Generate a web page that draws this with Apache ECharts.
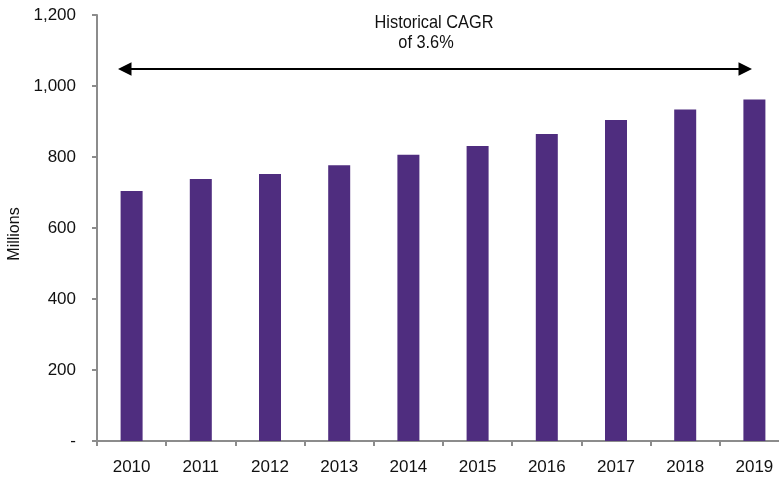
<!DOCTYPE html>
<html>
<head>
<meta charset="utf-8">
<script src="https://cdn.jsdelivr.net/npm/echarts@6/dist/echarts.min.js"></script>
<style>
html,body{margin:0;padding:0;background:#fff;}
#chart{width:779px;height:479px;}
</style>
</head>
<body>
<div id="chart"></div>
<script>
const categories = ['2010','2011','2012','2013','2014','2015','2016','2017','2018','2019'];
const values = [704, 738, 752, 777, 806, 831, 865, 904, 934, 962];
const yTicks = [0, 200, 400, 600, 800, 1000, 1200];
const annotationLines = ['Historical CAGR', 'of 3.6%'];

const FONT = "'Liberation Sans', Arial, sans-serif";
const chart = echarts.init(document.getElementById('chart'), null, {renderer: 'canvas'});

const option = {
  animation: false,
  backgroundColor: '#ffffff',
  grid: {left: 97, top: 15, width: 692, height: 426, containLabel: false, outerBoundsMode: 'none'},
  xAxis: {
    type: 'category',
    data: categories,
    axisLine: {lineStyle: {color: '#8c8c8c', width: 2}},
    axisTick: {show: true, length: 5, alignWithLabel: false, lineStyle: {color: '#8c8c8c', width: 2}},
    axisLabel: {color: '#111', fontFamily: FONT, fontSize: 17, margin: 18},
    splitLine: {show: false}
  },
  yAxis: {
    type: 'value',
    min: yTicks[0], max: yTicks[yTicks.length - 1], interval: yTicks[1] - yTicks[0],
    name: 'Millions',
    nameLocation: 'middle',
    nameRotate: 90,
    nameGap: 72,
    nameTextStyle: {color: '#111', fontFamily: FONT, fontSize: 16, padding: [0, 12, 0, 0]},
    axisLine: {show: true, lineStyle: {color: '#8c8c8c', width: 2}},
    axisTick: {show: true, length: 5, lineStyle: {color: '#8c8c8c', width: 2}},
    axisLabel: {
      color: '#111', fontFamily: FONT, fontSize: 17, margin: 21,
      formatter: function (v) { return v === 0 ? '-' : v.toLocaleString('en-US'); }
    },
    splitLine: {show: false}
  },
  series: [{
    type: 'bar',
    data: values,
    barWidth: 22,
    itemStyle: {color: '#4f2d7f'}
  }],
  graphic: [
    {type: 'text', x: 434, y: 23, scaleX: 0.86, style: {text: annotationLines[0], x: 0, y: 0, fill: '#111', font: '19px ' + FONT, textAlign: 'center', textVerticalAlign: 'middle'}},
    {type: 'text', x: 426, y: 42.5, scaleX: 0.86, style: {text: annotationLines[1], x: 0, y: 0, fill: '#111', font: '19px ' + FONT, textAlign: 'center', textVerticalAlign: 'middle'}},
    {type: 'line', shape: {x1: 128, y1: 69, x2: 742, y2: 69}, style: {stroke: '#000', lineWidth: 2}},
    {type: 'polygon', shape: {points: [[118, 69], [131.5, 62.3], [131.5, 75.7]]}, style: {fill: '#000'}},
    {type: 'polygon', shape: {points: [[752, 69], [738.5, 62.3], [738.5, 75.7]]}, style: {fill: '#000'}}
  ]
};
chart.setOption(option);
</script>
</body>
</html>
